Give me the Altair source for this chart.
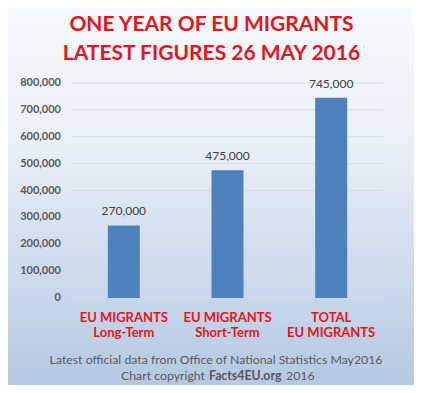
import altair as alt
import pandas as pd

title_lines = ["ONE YEAR OF EU MIGRANTS", "LATEST FIGURES 26 MAY 2016"]
categories = ["EU MIGRANTS|Long-Term", "EU MIGRANTS|Short-Term", "TOTAL|EU MIGRANTS"]
values = [270000, 475000, 745000]
value_labels = ["270,000", "475,000", "745,000"]
y_ticks = [0, 100000, 200000, 300000, 400000, 500000, 600000, 700000, 800000]

W, H = 311, 215
PAD = {"left": 64, "top": 75, "right": 31, "bottom": 87}
FONT = "Lato"
RED = "#E8141C"
GRAY = "#595959"

df = pd.DataFrame({"cat": categories, "val": values, "lab": value_labels})
ticks = pd.DataFrame({"v": y_ticks})

yscale = alt.Scale(domain=[0, 800000], nice=False)
xscale = alt.Scale(paddingInner=0, paddingOuter=0)

bg = alt.Chart(alt.Data(values=[{}])).mark_rect(
    fill=alt.Gradient(
        gradient="linear",
        stops=[
            alt.GradientStop(color="#F5F8FC", offset=0),
            alt.GradientStop(color="#EEF3F9", offset=0.3),
            alt.GradientStop(color="#B5C9E3", offset=1),
        ],
        x1=0, x2=0, y1=0, y2=1,
    )
).encode(
    x=alt.value(-PAD["left"]), x2=alt.value(W + PAD["right"]),
    y=alt.value(-PAD["top"]), y2=alt.value(H + PAD["bottom"]),
)

grid = alt.Chart(ticks).mark_rule(color="#D5DCE6", strokeWidth=1).encode(
    y=alt.Y("v:Q", scale=yscale, axis=None),
    x=alt.value(0), x2=alt.value(W),
)

ylabels = alt.Chart(ticks).transform_calculate(t="format(datum.v, ',')").mark_text(
    font=FONT, fontSize=11, fontWeight="bold", color=GRAY, align="right", baseline="middle"
).encode(
    x=alt.value(-11),
    y=alt.Y("v:Q", scale=yscale, axis=None),
    text="t:N",
)

bars = alt.Chart(df).mark_bar(color="#4F81BD", size=32).encode(
    x=alt.X("cat:N", sort=None, scale=xscale, title=None,
            axis=alt.Axis(labelAngle=0, labelExpr="split(datum.label, '|')",
                          labelColor=RED, labelFont=FONT, labelFontWeight="bold",
                          labelFontSize=13, labelLineHeight=15.5, labelPadding=13,
                          ticks=False, domain=False, zindex=2)),
    y=alt.Y("val:Q", scale=yscale, axis=None),
)

text = alt.Chart(df).mark_text(font=FONT, fontSize=12, color="#404040", dy=-10,
                               baseline="alphabetic").encode(
    x=alt.X("cat:N", sort=None, scale=xscale),
    y=alt.Y("val:Q", scale=yscale, axis=None),
    text="lab:N",
)

def label(t, x, y, **kw):
    return alt.Chart(alt.Data(values=[{"t": t}])).mark_text(
        font=FONT, baseline="alphabetic", **kw
    ).encode(x=alt.value(x), y=alt.value(y), text="t:N")

title1 = label(title_lines[0], 139.5, -52, fontSize=21, fontWeight="bold", color=RED, align="center")
title2 = label(title_lines[1], 139.5, -23, fontSize=21, fontWeight="bold", color=RED, align="center")

foot1 = label("Latest official data from Office of National Statistics May2016", 144, 281,
              fontSize=12.3, color=GRAY, align="center")
foot2a = label("Chart copyright", 133, 297, fontSize=12.3, color=GRAY, align="right")
foot2b = label("Facts4EU.org", 137, 297, fontSize=12.3, fontWeight="bold", color=GRAY, align="left")
foot2c = label("2016", 214, 297, fontSize=12.3, color=GRAY, align="left")

chart = alt.layer(bg, grid, ylabels, bars, text, title1, title2, foot1, foot2a, foot2b, foot2c).properties(
    width=W, height=H,
    padding=PAD,
    autosize=alt.AutoSizeParams(type="none"),
).configure_view(stroke=None).configure(background="#F5F8FC")

chart.save("out.html", embed_options={"renderer": "svg", "actions": False})
